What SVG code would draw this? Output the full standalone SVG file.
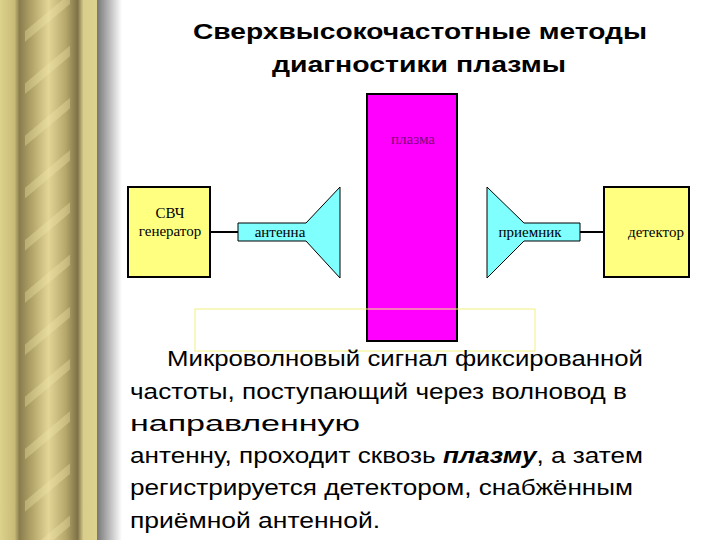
<svg xmlns="http://www.w3.org/2000/svg" width="720" height="540" viewBox="0 0 720 540">
<defs>
<linearGradient id="gold" x1="0" x2="1" y1="0" y2="0">
<stop offset="0" stop-color="#dcd28c"/><stop offset="0.15" stop-color="#c8bb78"/><stop offset="0.2" stop-color="#8a7d4e"/><stop offset="0.32" stop-color="#b0a266"/><stop offset="0.5" stop-color="#e2d596"/><stop offset="0.68" stop-color="#b5a769"/><stop offset="0.8" stop-color="#7e7248"/><stop offset="0.86" stop-color="#d8cd8a"/><stop offset="1" stop-color="#ddd28e"/>
</linearGradient>
<linearGradient id="shadow" x1="0" x2="1" y1="0" y2="0">
<stop offset="0" stop-color="#777"/><stop offset="1" stop-color="#fff"/>
</linearGradient>
<pattern id="twist" width="40" height="40" patternUnits="userSpaceOnUse" patternTransform="rotate(-40)">
<rect x="0" y="0" width="40" height="8" fill="#f0e4a8" opacity="0.35"/>
</pattern>
<style>
.box{fill:#ffff80;stroke:#000;stroke-width:2}
.cyan{fill:#80ffff;stroke:#000;stroke-width:1}
.lbl{font-family:"Liberation Serif",serif;font-size:15px;text-anchor:middle;fill:#000}
.body{font-family:"Liberation Sans",Arial,sans-serif;font-size:22px;fill:#000}
</style>
</defs>
<rect width="720" height="540" fill="#fff"/>
<g id="border">
<rect x="0" y="0" width="97" height="540" fill="url(#gold)"/>
<rect x="25" y="0" width="45" height="540" fill="url(#twist)"/>
<rect x="97" y="0" width="25" height="540" fill="url(#shadow)"/>
</g>
<g id="title" font-family="Liberation Sans,Arial,sans-serif" font-size="22" font-weight="bold">
<text x="193" y="39" textLength="454" lengthAdjust="spacingAndGlyphs">Сверхвысокочастотные методы</text>
<text x="272" y="72" textLength="294" lengthAdjust="spacingAndGlyphs">диагностики плазмы</text>
</g>
<g id="connectors" stroke="#000" stroke-width="2">
<line x1="210" y1="232" x2="238" y2="232"/>
<line x1="580" y1="232" x2="604" y2="232"/>
</g>
<g id="generator"><rect class="box" x="128" y="187" width="82" height="90"/><text class="lbl" x="170" y="218">СВЧ</text><text class="lbl" x="170" y="236">генератор</text></g>
<g id="antenna"><path class="cyan" d="M238 223H306L340 187V278L306 241H238Z"/><text class="lbl" x="280" y="237">антенна</text></g>
<g id="plasma"><rect x="367" y="94" width="90" height="247" fill="#ff00ff" stroke="#000" stroke-width="2"/><text class="lbl" x="413" y="144" style="fill:#800080">плазма</text></g>
<g id="receiver"><path class="cyan" d="M487 187L524 223H580V241H524L487 278Z"/><text class="lbl" x="530" y="237">приемник</text></g>
<g id="detector"><rect class="box" x="604" y="187" width="85" height="90"/><text class="lbl" x="656" y="237">детектор</text></g>
<rect x="195" y="309" width="340" height="42" fill="none" stroke="#f0f080" stroke-width="1"/>
<g id="text" class="body">
<text x="167" y="366" textLength="476" lengthAdjust="spacingAndGlyphs">Микроволновый сигнал фиксированной</text>
<text x="130" y="399" textLength="497" lengthAdjust="spacingAndGlyphs">частоты, поступающий через волновод в</text>
<text x="130" y="431" textLength="230" lengthAdjust="spacingAndGlyphs">направленную</text>
<text x="130" y="463" textLength="513" lengthAdjust="spacingAndGlyphs">антенну, проходит сквозь <tspan font-weight="bold" font-style="italic">плазму</tspan>, а затем</text>
<text x="130" y="495" textLength="503" lengthAdjust="spacingAndGlyphs">регистрируется детектором, снабжённым</text>
<text x="130" y="528" textLength="250" lengthAdjust="spacingAndGlyphs">приёмной антенной.</text>
</g>
</svg>
